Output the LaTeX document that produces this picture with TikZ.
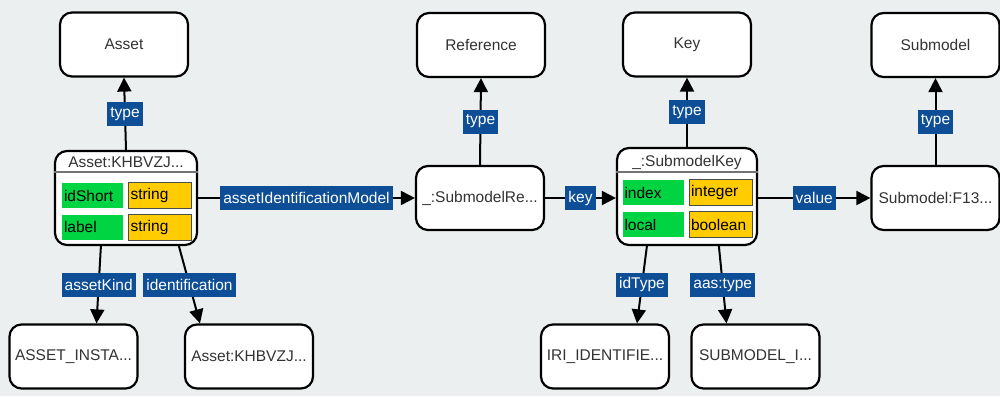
\documentclass[tikz,border=0pt]{standalone}
\usepackage{fontspec}
\setmainfont{Liberation Sans}
\usetikzlibrary{arrows.meta,positioning}
\definecolor{canvasbg}{HTML}{ECEFF0}
\definecolor{propgreen}{HTML}{00D443}
\definecolor{typeyellow}{HTML}{FFCC00}
\definecolor{relblue}{HTML}{0D4E96}
\definecolor{inktext}{HTML}{333333}

\begin{document}
\begin{tikzpicture}[x=1pt,y=-1pt, font=\fontsize{15.5}{17}\selectfont,
  res/.style={draw, line width=2.2pt, fill=white, rounded corners=12pt,
    minimum width=128pt, minimum height=64pt, text=inktext},
  inst/.style={draw, line width=2.2pt, fill=white, rounded corners=12pt,
    minimum width=142pt, text=inktext},
  prop/.style={fill=propgreen, minimum width=61pt, minimum height=25pt,
    text width=57pt, align=left, inner sep=2pt},
  dtype/.style={fill=typeyellow, draw=black!70, line width=1pt,
    minimum width=63pt, minimum height=26pt, text width=59pt, align=left, inner sep=2pt},
  rel/.style={draw, line width=2pt, -{Triangle[length=14pt,width=14pt]}},
  lbl/.style={fill=relblue, text=white, inner sep=3pt, minimum height=24pt}]

% Canvas
\fill[canvasbg] (0,0) rectangle (1000,396);
\useasboundingbox (0,0) rectangle (1000,396);

% Type nodes (top row)
\node[res] (asset) at (124,44.5) {Asset};
\node[res] (reference) at (481,45) {Reference};
\node[res] (key) at (687,44.5) {Key};
\node[res] (submodel) at (935.5,45) {Submodel};

% Instance of Asset
\node[inst, minimum height=94pt] (assetinst) at (126,198) {};
\node[text=inktext] (assethead) at (126,162) {Asset:KHBVZJ...};
\draw[black!55, line width=1.2pt] ([yshift=-22pt]assetinst.north west) -- ([yshift=-22pt]assetinst.north east);
\node[prop] (idshort) at (92.5,195.5) {idShort};
\node[dtype] (idshorttype) at (160,195) {string};
\node[prop] (label) at (92.5,227) {label};
\node[dtype] (labeltype) at (160,227) {string};

% Reference and submodel instances
\node[res] (submodelref) at (480,198) {\_:SubmodelRe...};
\node[res] (submodelinst) at (935.5,198) {Submodel:F13...};

% Instance of Key
\node[inst, minimum width=140pt, minimum height=97pt] (keyinst) at (687,196.5) {};
\node[text=inktext] (keyhead) at (687,162) {\_:SubmodelKey};
\draw[black!55, line width=1.2pt] ([yshift=-25pt]keyinst.north west) -- ([yshift=-25pt]keyinst.north east);
\node[prop] (index) at (653,192.5) {index};
\node[dtype] (indextype) at (720.5,192.5) {integer};
\node[prop] (local) at (653,224.5) {local};
\node[dtype] (localtype) at (720.5,224.5) {boolean};

% Value nodes (bottom row)
\node[res] (assetkind) at (73.5,356.5) {ASSET\_INSTA...};
\node[res] (assetid) at (249,356.5) {Asset:KHBVZJ...};
\node[res] (idtype) at (605,356.5) {IRI\_IDENTIFIE...};
\node[res] (aastype) at (755.5,356.5) {SUBMODEL\_I...};

% Relations
\draw[rel] (assetinst.north) -- (asset.south) node[lbl, midway] {type};
\draw[rel] (submodelref.north) -- (reference.south) node[lbl, midway] {type};
\draw[rel] (keyinst.north) -- (key.south) node[lbl, midway] {type};
\draw[rel] (submodelinst.north) -- (submodel.south) node[lbl, midway] {type};

\draw[rel] (assetinst.east |- submodelref.west) -- (submodelref.west) node[lbl, midway] {assetIdentificationModel};
\draw[rel] (submodelref.east) -- (keyinst.west |- submodelref.west) node[lbl, midway] {key};
\draw[rel] (keyinst.east |- submodelinst.west) -- (submodelinst.west) node[lbl, midway] {value};

\draw[rel] ([xshift=47pt]assetinst.south west) -- ([xshift=23pt]assetkind.north) node[lbl, midway] {assetKind};
\draw[rel] ([xshift=125pt]assetinst.south west) -- ([xshift=-49pt]assetid.north) node[lbl, midway] {identification};
\draw[rel] ([xshift=31pt]keyinst.south west) -- ([xshift=32pt]idtype.north) node[lbl, midway] {idType};
\draw[rel] ([xshift=103pt]keyinst.south west) -- ([xshift=-29pt]aastype.north) node[lbl, midway] {aas:type};

\end{tikzpicture}
\end{document}
